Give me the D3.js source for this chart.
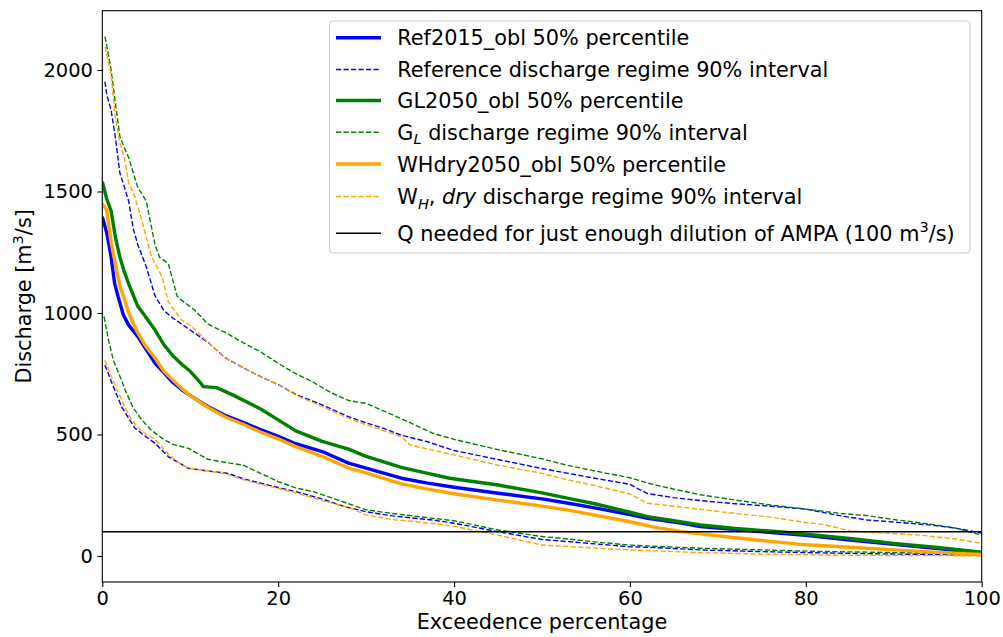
<!DOCTYPE html>
<html>
<head>
<meta charset="utf-8">
<script src="https://cdn.jsdelivr.net/npm/d3@7"></script>
<style>
  html, body { margin: 0; padding: 0; background: #fff; }
  svg { display: block; font-family: "DejaVu Sans", sans-serif; }
</style>
</head>
<body>
<svg id="chart" width="1003" height="637"></svg>
<script>
// Flow duration curves: [exceedence %, discharge m3/s]
const refMedian = [[0,1396],[0.5,1330],[0.8,1273],[1,1230],[1.4,1122],[1.8,1067],[2.4,992],[3,950],[4,905],[5,850],[6,793],[7,755],[8,715],[9,685],[10,660],[12,615],[14,578],[16,550],[18,520],[20,492],[22,462],[25,430],[28,382],[30,362],[34,320],[37,300],[40,283],[45,258],[50,235],[53,217],[56,198],[60,170],[62,155],[66,134],[68,121],[70,115],[75,100],[80,85],[85,66],[90,48],[95,31],[100,12]];
const refUpper = [[0.3,1952],[0.5,1900],[1,1835],[1.5,1720],[2,1575],[2.5,1520],[3,1460],[3.5,1350],[4,1285],[5,1190],[6,1070],[7,1010],[8,980],[9,955],[10,930],[12,880],[14,815],[16,775],[18,738],[20,705],[22,665],[25,622],[28,573],[30,548],[32,525],[34,497],[37,470],[40,434],[45,397],[50,360],[53,340],[56,320],[60,295],[61,275],[62,257],[65,240],[68,228],[72,215],[76,205],[80,193],[84,165],[87,148],[90,140],[94,128],[97,115],[100,94]];
const refLower = [[0.3,786],[1.1,711],[2.2,614],[3.7,526],[5,490],[6,464],[7.5,409],[9.8,361],[12,350],[14.3,340],[16,318],[18.1,299],[20,282],[22,265],[25,235],[27.6,203],[30,182],[33,165],[37.6,148],[40,135],[45,100],[50,68],[53,59],[56,50],[60,38],[62,36],[68,25],[75,18],[80,14],[90,8],[100,4]];

const glMedian = [[0,1540],[0.5,1470],[1,1420],[1.5,1310],[2,1230],[2.5,1170],[3,1120],[4,1030],[5,980],[6,930],[7,870],[8,825],[9,790],[10,760],[11,720],[11.5,697],[13,693],[15,660],[18,605],[20,560],[22,515],[25,472],[28,440],[30,410],[34,365],[37,340],[39.5,320],[45,292],[50,260],[53,237],[56,215],[60,180],[62,162],[65,145],[68,128],[72,113],[77,100],[80,90],[85,72],[90,52],[95,35],[100,16]];
const glUpper = [[0.3,2137],[0.5,2100],[1,2000],[1.5,1860],[2,1726],[2.5,1680],[3,1640],[4,1520],[5,1460],[6,1280],[6.5,1230],[7.5,1204],[8.5,1070],[9,1053],[10.5,1012],[12,955],[13,937],[14,920],[16,878],[18,840],[20,793],[22,750],[24,715],[26,672],[28,640],[30,628],[34,565],[37.6,505],[40,480],[45.2,436],[50,400],[52.8,374],[56,350],[60,322],[62,300],[65,275],[68,252],[72,230],[76,210],[80,193],[84,175],[87,166],[90,150],[94,132],[97,115],[100,86]];
const glLower = [[0.2,985],[0.7,889],[1.25,807],[2,740],[2.6,683],[3.5,610],[4.5,560],[5.5,520],[6.8,484],[8,460],[9.8,443],[12,398],[14,385],[16,374],[18,340],[20,306],[22,280],[24,265],[26,240],[28,215],[30,190],[33,175],[37.6,155],[40,145],[45,107],[50,80],[53,70],[56,58],[60,45],[62,41],[68,32],[75,25],[80,20],[90,14],[100,8]];

const whMedian = [[0,1450],[0.5,1424],[1,1290],[1.5,1200],[2,1110],[2.5,1060],[3,1000],[4,920],[5,860],[6,815],[7,760],[8,725],[9,690],[10,660],[12,612],[14,572],[16,542],[18,510],[20,482],[22,450],[25,410],[28,362],[30,342],[34,297],[37,275],[40,256],[45,230],[50,205],[53,189],[56,168],[60,141],[63,117],[66,100],[68,91],[72,75],[76,60],[80,46],[85,36],[90,25],[95,15],[100,6]];
const whUpper = [[0.3,2096],[1,1980],[1.5,1800],[2,1700],[2.5,1640],[3,1534],[3.7,1479],[4.5,1380],[5.6,1232],[6.8,1149],[7.5,1047],[9,971],[10,950],[12,880],[14,815],[16,775],[18,738],[20,705],[22,662],[25,615],[28,567],[30,540],[34,491],[35,457],[37,440],[40,416],[45,374],[50,340],[53,313],[56,290],[60,255],[62,217],[65,205],[68,192],[72,175],[76,160],[80,138],[82,130],[85,103],[90,92],[93,86],[97,70],[100,52]];
const whLower = [[0.3,807],[1,740],[2.2,642],[3,580],[4,530],[5,500],[6,480],[7.5,420],[9,375],[10,360],[12,350],[14,338],[16,315],[18,295],[20,278],[22,260],[25,228],[28,200],[30,169],[33,150],[37.6,134],[40,122],[45,86],[50,45],[55,35],[60,25],[62,22],[68,14],[75,8],[80,5],[90,2],[100,1]];

const thresholdQ = 100;
const xTicks = [0, 20, 40, 60, 80, 100];
const yTicks = [0, 500, 1000, 1500, 2000];

const svg = d3.select("#chart");
const m = { left: 102.3, right: 981.7, top: 10.7, bottom: 582 };
const fsTick = 19.44;
const fs = 20.8;

const x = d3.scaleLinear().domain([0, 100]).range([m.left, m.right]);
const y = d3.scaleLinear().domain([-107, 2244]).range([m.bottom, m.top]);

const plot = svg.append("g");
plot.append("clipPath").attr("id", "clip")
  .append("rect").attr("x", m.left).attr("y", m.top)
  .attr("width", m.right - m.left).attr("height", m.bottom - m.top);

const line = d3.line().x(d => x(d[0])).y(d => y(d[1]));
const lines = plot.append("g").attr("clip-path", "url(#clip)");

const series = [
  { data: refMedian, color: "#0000ff", w: 3.4, dash: null },
  { data: refUpper, color: "#0000ff", w: 1.4, dash: "5.2,2.3" },
  { data: refLower, color: "#0000ff", w: 1.4, dash: "5.2,2.3" },
  { data: glMedian, color: "#008000", w: 3.4, dash: null },
  { data: glUpper, color: "#008000", w: 1.4, dash: "5.2,2.3" },
  { data: glLower, color: "#008000", w: 1.4, dash: "5.2,2.3" },
  { data: whMedian, color: "#ffa500", w: 3.4, dash: null },
  { data: whUpper, color: "#ffa500", w: 1.4, dash: "5.2,2.3" },
  { data: whLower, color: "#ffa500", w: 1.4, dash: "5.2,2.3" }
];
series.forEach(s => {
  lines.append("path").datum(s.data)
    .attr("d", line).attr("fill", "none")
    .attr("stroke", s.color).attr("stroke-width", s.w)
    .attr("stroke-linejoin", "round")
    .attr("stroke-dasharray", s.dash);
});

lines.append("line")
  .attr("x1", m.left).attr("x2", m.right)
  .attr("y1", y(thresholdQ)).attr("y2", y(thresholdQ))
  .attr("stroke", "#000").attr("stroke-width", 1.4);

// Axes
const xAxis = svg.append("g").attr("transform", `translate(0,${m.bottom})`)
  .call(d3.axisBottom(x).tickValues(xTicks).tickSize(4.9).tickPadding(4.5).tickFormat(d3.format("d")));
const yAxis = svg.append("g").attr("transform", `translate(${m.left},0)`)
  .call(d3.axisLeft(y).tickValues(yTicks).tickSize(4.9).tickPadding(4.5).tickFormat(d3.format("d")));
[xAxis, yAxis].forEach(a => {
  a.select(".domain").remove();
  a.selectAll(".tick line").attr("stroke", "#000").attr("stroke-width", 1.1);
  a.selectAll(".tick text").attr("font-size", fsTick).attr("fill", "#000")
    .attr("font-family", "DejaVu Sans");
});

// Frame
svg.append("rect").attr("x", m.left).attr("y", m.top)
  .attr("width", m.right - m.left).attr("height", m.bottom - m.top)
  .attr("fill", "none").attr("stroke", "#000").attr("stroke-width", 1.1);

// Axis titles
svg.append("text").attr("x", (m.left + m.right) / 2).attr("y", 629)
  .attr("text-anchor", "middle").attr("font-size", fs)
  .text("Exceedence percentage");

const yl = svg.append("text")
  .attr("transform", `translate(31,${(m.top + m.bottom) / 2}) rotate(-90)`)
  .attr("text-anchor", "middle").attr("font-size", fs);
yl.append("tspan").text("Discharge [m");
yl.append("tspan").attr("font-size", fs * 0.7).attr("dy", -8.5).text("3");
yl.append("tspan").attr("dy", 8.5).text("/s]");

// Legend
const lg = svg.append("g");
lg.append("rect").attr("x", 329.5).attr("y", 21).attr("width", 640.5).attr("height", 232)
  .attr("rx", 4).attr("fill", "#fff").attr("fill-opacity", 0.8)
  .attr("stroke", "#cccccc").attr("stroke-width", 1.1);

const entries = [
  { color: "#0000ff", w: 3.4, dash: null, yy: 37.7, label: [["Ref2015_obl 50% percentile"]] },
  { color: "#0000ff", w: 1.4, dash: "5.2,2.3", yy: 69.5, label: [["Reference discharge regime 90% interval"]] },
  { color: "#008000", w: 3.4, dash: null, yy: 100.5, label: [["GL2050_obl 50% percentile"]] },
  { color: "#008000", w: 1.4, dash: "5.2,2.3", yy: 132.3, label: [["G"], ["L", "sub"], [" discharge regime 90% interval"]] },
  { color: "#ffa500", w: 3.4, dash: null, yy: 164, label: [["WHdry2050_obl 50% percentile"]] },
  { color: "#ffa500", w: 1.4, dash: "5.2,2.3", yy: 196.5, label: [["W"], ["H", "sub"], [","], [" dry", "it"], [" discharge regime 90% interval"]] },
  { color: "#000", w: 1.4, dash: null, yy: 233.3, label: [["Q needed for just enough dilution of AMPA (100 m"], ["3", "sup"], ["/s)"]] }
];
entries.forEach(e => {
  lg.append("line").attr("x1", 336).attr("x2", 381).attr("y1", e.yy).attr("y2", e.yy)
    .attr("stroke", e.color).attr("stroke-width", e.w).attr("stroke-dasharray", e.dash);
  const t = lg.append("text").attr("x", 397.3).attr("y", e.yy + 7.5).attr("font-size", fs);
  let shift = 0;
  e.label.forEach(([s, kind]) => {
    const ts = t.append("tspan").text(s);
    let target = 0;
    if (kind === "sub") { target = 4.5; ts.attr("font-size", fs * 0.7).attr("font-style", "italic"); }
    else if (kind === "sup") { target = -8.5; ts.attr("font-size", fs * 0.7); }
    else if (kind === "it") { ts.attr("font-style", "italic"); }
    if (target !== shift) { ts.attr("dy", target - shift); shift = target; }
  });
});
</script>
</body>
</html>
